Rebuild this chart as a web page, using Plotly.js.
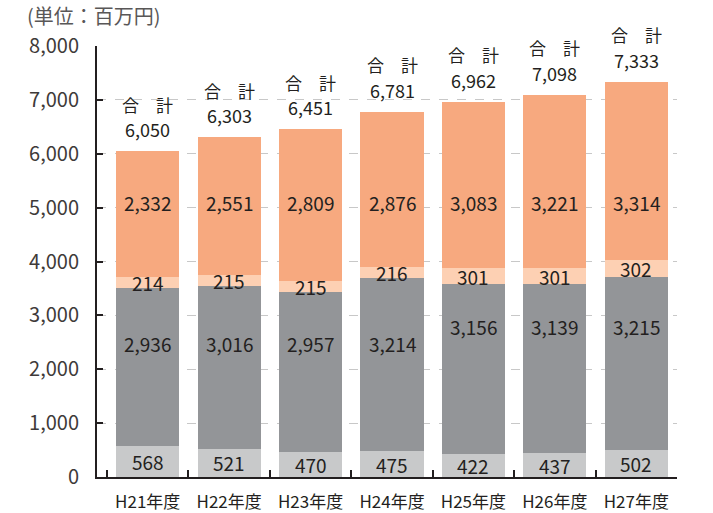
<!DOCTYPE html>
<html>
<head>
<meta charset="utf-8">
<script src="https://cdn.plot.ly/plotly-3.0.1.min.js"></script>
<style>html,body{margin:0;padding:0;background:#fff;}#chart{width:713px;height:513px;}</style>
</head>
<body>
<div id="chart"></div>
<script>
// ---- data ----
const categories = ["H21年度", "H22年度", "H23年度", "H24年度", "H25年度", "H26年度", "H27年度"];
const seriesLight = [568, 521, 470, 475, 422, 437, 502];        // bottom, light gray
const seriesDark = [2936, 3016, 2957, 3214, 3156, 3139, 3215];  // dark gray
const seriesPeach = [214, 215, 215, 216, 301, 301, 302];        // light peach
const seriesSalmon = [2332, 2551, 2809, 2876, 3083, 3221, 3314];// salmon (top)
const totals = [6050, 6303, 6451, 6781, 6962, 7098, 7333];
const yTicks = [0, 1000, 2000, 3000, 4000, 5000, 6000, 7000, 8000];

// ---- style ----
const FONT = '"Noto Sans CJK JP", "Noto Sans", sans-serif';
const TXT = '#231f20';
const colors = ['#c8c9ca', '#939598', '#fdd0b3', '#f7a97f'];
const fmt = v => v.toLocaleString('en-US');

const idx = categories.map((_, i) => i);
const allSeries = [seriesLight, seriesDark, seriesPeach, seriesSalmon];
const traces = allSeries.map((s, k) => ({
  type: 'bar', x: idx, y: s, width: 0.775,
  marker: {color: colors[k], line: {width: 0}},
  hoverinfo: 'skip', showlegend: false
}));
// helper traces for overlay axes (gridlines / boundary ticks)
traces.push({type: 'scatter', x: [0], y: [0], yaxis: 'y2', mode: 'markers',
  marker: {opacity: 0}, hoverinfo: 'skip', showlegend: false});
traces.push({type: 'scatter', x: [0], y: [0], xaxis: 'x2', mode: 'markers',
  marker: {opacity: 0}, hoverinfo: 'skip', showlegend: false});

const annotations = [];
idx.forEach(i => {
  const b1 = seriesLight[i], b2 = b1 + seriesDark[i];
  const lab = (y, t) => annotations.push({x: i, y: y, xref: 'x', yref: 'y', text: t,
    showarrow: false, yanchor: 'middle', font: {family: FONT, size: 19, color: TXT}});
  lab(b1 / 2, fmt(seriesLight[i]));
  lab(i < 4 ? 2470 : 2785, fmt(seriesDark[i]));
  lab(b2 + seriesPeach[i] / 2, fmt(seriesPeach[i]));
  lab(5100, fmt(seriesSalmon[i]));
  annotations.push({x: i, y: totals[i], xref: 'x', yref: 'y', yanchor: 'middle',
    showarrow: false, yshift: 22, borderpad: 0, text: fmt(totals[i]),
    font: {family: FONT, size: 18, color: TXT}});
  annotations.push({x: i, y: totals[i], xref: 'x', yref: 'y', yanchor: 'middle',
    showarrow: false, yshift: 47, borderpad: 0, text: '合　計',
    font: {family: FONT, size: 17, color: TXT}});
});

const layout = {
  width: 713, height: 513,
  margin: {l: 97, r: 36, t: 46, b: 36},
  paper_bgcolor: '#fff', plot_bgcolor: 'rgba(0,0,0,0)',
  barmode: 'stack', bargap: 0.2,
  font: {family: FONT, color: TXT},
  title: {text: '(単位：百万円)', xref: 'container', yref: 'container',
    x: 27 / 713, xanchor: 'left', y: 1 - 17 / 513, yanchor: 'middle',
    font: {family: FONT, size: 20, color: '#595757'}},
  xaxis: {
    type: 'linear', range: [-0.623, 6.5],
    tickvals: idx, ticktext: categories, ticks: '', showgrid: false,
    showline: true, linecolor: TXT, linewidth: 2, zeroline: false,
    tickfont: {family: FONT, size: 17, color: TXT}, ticklabelstandoff: 9,
    fixedrange: true
  },
  xaxis2: {
    overlaying: 'x', range: [-0.623, 6.5], tickvals: [-0.5, 0.5, 1.5, 2.5, 3.5, 4.5, 5.5, 6.5],
    ticks: 'inside', ticklen: 7, tickwidth: 2, tickcolor: TXT, showticklabels: false,
    showgrid: false, showline: false, zeroline: false, side: 'bottom', anchor: 'y'
  },
  yaxis: {
    range: [0, 8000], tickvals: yTicks, tickformat: ',d', ticks: 'inside', ticklen: 6,
    tickwidth: 2, tickcolor: TXT, showline: true, linecolor: TXT, linewidth: 2,
    showgrid: false, zeroline: false, ticklabelstandoff: 12,
    tickfont: {family: FONT, size: 20, color: '#3e3a39'}
  },
  yaxis2: {
    overlaying: 'y', range: [0, 8000], tickvals: yTicks.slice(1, -1),
    showticklabels: false, ticks: '', showline: false, zeroline: false,
    showgrid: true, gridcolor: '#c8c8c8', gridwidth: 1, griddash: 'dash'
  },
  annotations: annotations
};

Plotly.newPlot('chart', traces, layout, {staticPlot: true});
</script>
</body>
</html>
